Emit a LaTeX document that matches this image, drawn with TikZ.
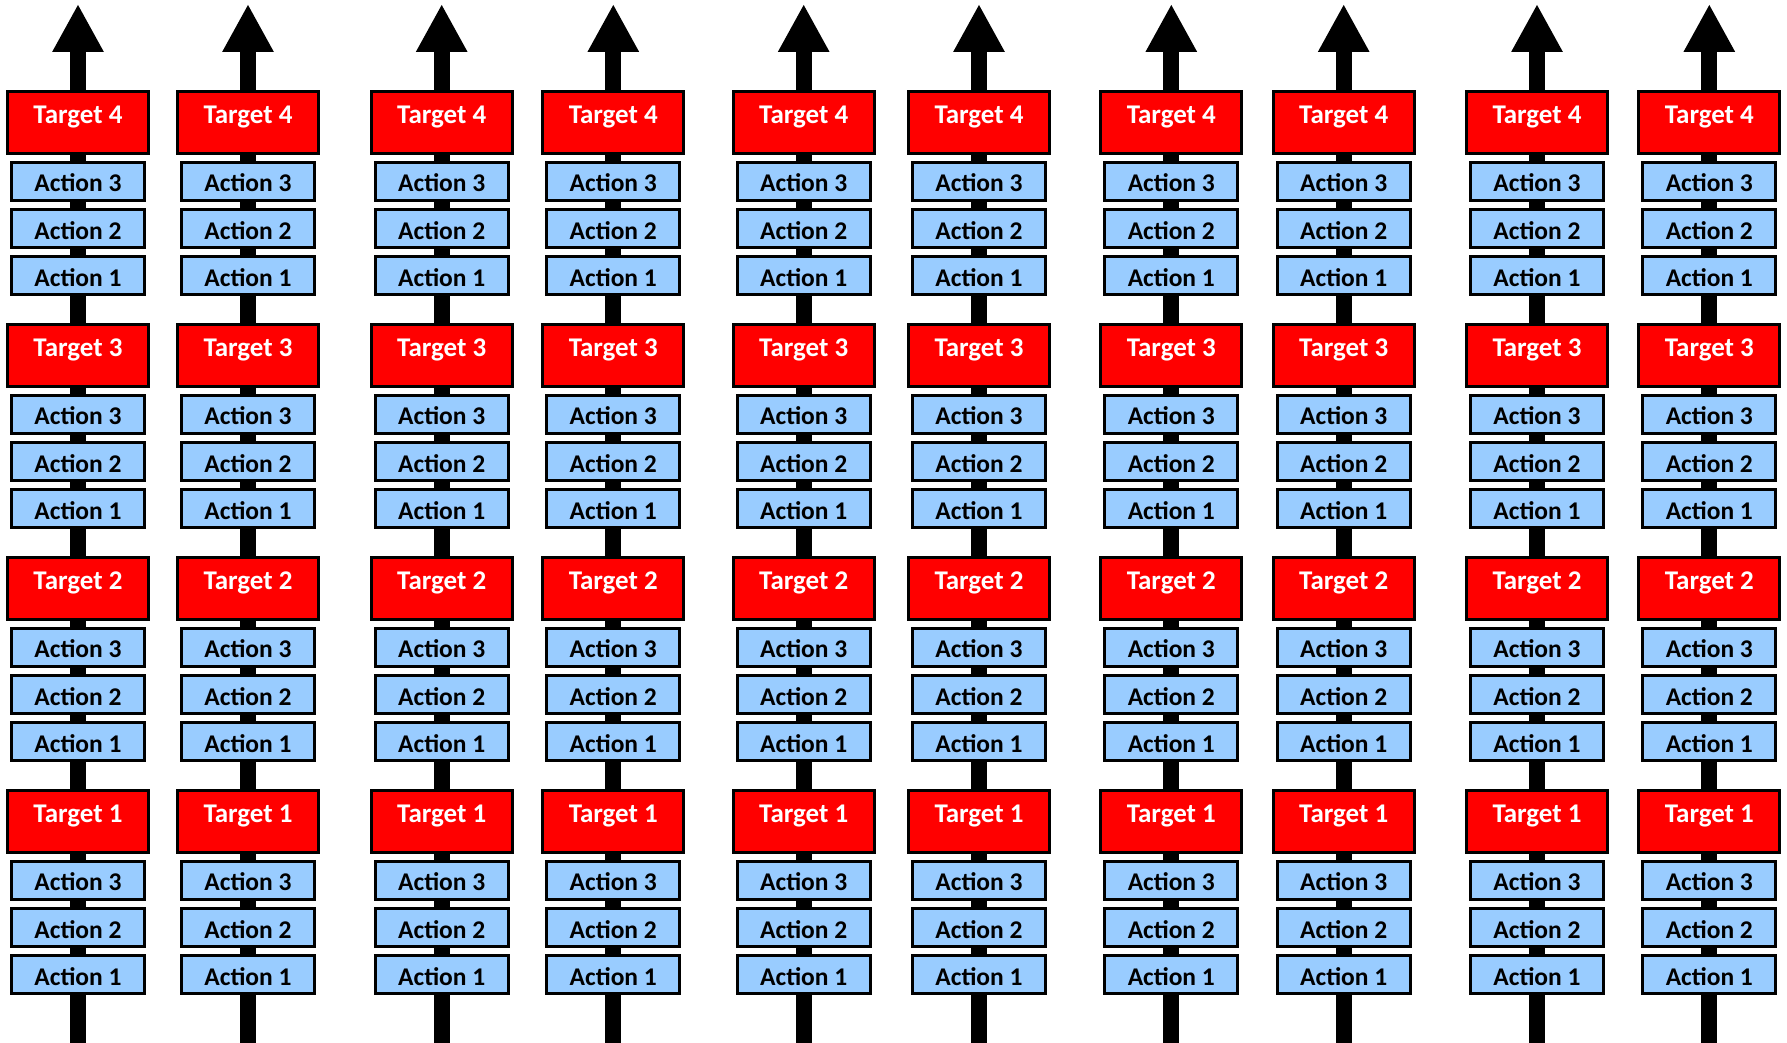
\documentclass[tikz,border=0pt]{standalone}
\usepackage{fontspec}
\setmainfont{Carlito}
\usetikzlibrary{arrows.meta}

\definecolor{targetred}{RGB}{255,0,0}
\definecolor{actionblue}{RGB}{153,204,255}

\tikzset{
  target/.style={draw=black, line width=3pt, fill=targetred, text=white,
    font=\fontsize{27}{30}\selectfont\bfseries, minimum width=141pt,
    inner sep=0pt, text height=32.5pt, text depth=29.5pt},
  action/.style={draw=black, line width=3pt, fill=actionblue, text=black,
    font=\fontsize{25.5}{28}\selectfont\bfseries, minimum width=133pt,
    inner sep=0pt, text height=29.5pt, text depth=8.5pt},
  spine/.style={line width=16pt, -{Triangle[width=48pt,length=48pt]}}
}

\begin{document}
\begin{tikzpicture}[x=1pt, y=1pt]
    \useasboundingbox (0,0) rectangle (1787,1043);

    \foreach \x [count=\c] in {78,248,441.7,613.3,803.7,979,1171.3,1343.7,1537,1709.3} {
        % Backbone arrow of the column
        \coordinate (base-\c) at (\x,0);
        \coordinate (tip-\c) at (\x,1039);
        \draw[spine] (base-\c) -- (tip-\c);

        % Targets with their three actions below
        \foreach \k in {1,...,4} {
            \pgfmathsetmacro{\top}{90+(4-\k)*233}
            \node[target] (t-\c-\k) at (\x,{1043-\top-32.5}) {Target \k};
            \foreach \j in {1,2,3} {
                \node[action] (a-\c-\k-\j) at (\x,{1043-\top-91.5-(3-\j)*47.25}) {Action \j};
            }
        }
    }
\end{tikzpicture}
\end{document}
